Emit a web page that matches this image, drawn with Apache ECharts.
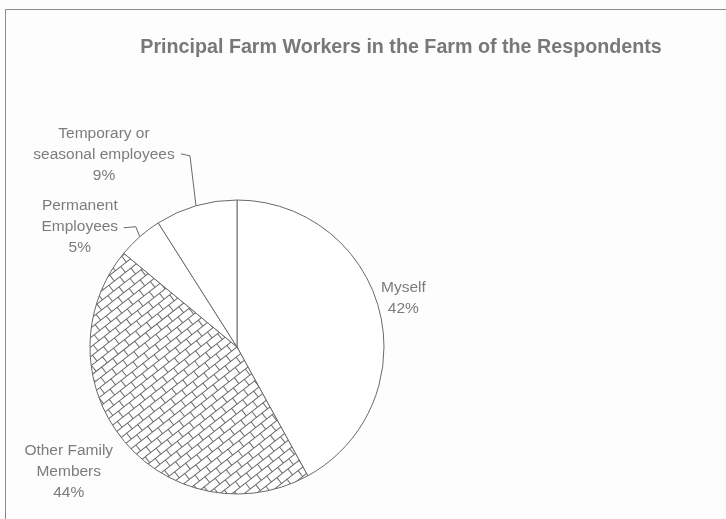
<!DOCTYPE html>
<html>
<head>
<meta charset="utf-8">
<script src="https://cdn.jsdelivr.net/npm/echarts@6/dist/echarts.min.js"></script>
<style>
  html, body { margin: 0; padding: 0; background: #fdfdfd; }
  #chart { width: 726px; height: 519px; }
</style>
</head>
<body>
<div id="chart"></div>
<script>
const chart = echarts.init(document.getElementById('chart'));

const categories = ['Myself', 'Other Family\nMembers', 'Permanent\nEmployees', 'Temporary or\nseasonal employees'];
const shares = [42, 44, 5, 9];

// brick hatch for the "Other Family Members" slice
function brickPattern() {
  const c = document.createElement('canvas');
  c.width = 726;
  c.height = 519;
  const ctx = c.getContext('2d');
  ctx.fillStyle = '#ffffff';
  ctx.fillRect(0, 0, c.width, c.height);
  ctx.strokeStyle = '#6a6a6a';
  ctx.lineWidth = 1;
  ctx.translate(237, 347);
  ctx.rotate(-38 * Math.PI / 180);
  const bw = 14, bh = 7.5;
  ctx.beginPath();
  for (let r = -60; r <= 60; r++) {
    const y = r * bh;
    ctx.moveTo(-700, y);
    ctx.lineTo(700, y);
    const off = (r & 1) ? bw / 2 : 0;
    for (let x = -700 + off; x < 700; x += bw) {
      ctx.moveTo(x, y);
      ctx.lineTo(x, y + bh);
    }
  }
  ctx.stroke();
  return c;
}

// label offsets from the slice edge point (label centre, leader bend)
const labelOffsets = [
  { dx: 24, dy: -12 },
  { dx: -55, dy: 31 },
  { dx: -60, dy: -10, bend: [-4, -10], end: [-16, -9] },
  { dx: -92, dy: -51, bend: [-6, -50], end: [-15, -52] }
];

const seriesData = categories.map(function (name, i) {
  const item = { name: name, value: shares[i] };
  if (i === 1) {
    item.itemStyle = { color: { image: brickPattern(), repeat: 'no-repeat' } };
  }
  if (i < 2) {
    item.labelLine = { lineStyle: { opacity: 0 } };
  }
  return item;
});

const option = {
  backgroundColor: '#fdfdfd',
  animation: false,
  title: {
    text: 'Principal Farm Workers in the Farm of the Respondents',
    left: 396,
    textAlign: 'center',
    top: 33,
    textStyle: {
      fontFamily: 'Liberation Sans, Arial, sans-serif',
      fontSize: 19.7,
      fontWeight: 'bold',
      color: '#787878'
    }
  },
  graphic: [
    {
      type: 'rect',
      shape: { x: 5.5, y: 9.5, width: 730, height: 520 },
      style: { fill: null, stroke: '#8a8a8a', lineWidth: 1 },
      silent: true
    }
  ],
  series: [
    {
      type: 'pie',
      center: [237, 347],
      radius: 147,
      startAngle: 90,
      clockwise: true,
      data: seriesData,
      itemStyle: {
        color: '#ffffff',
        borderColor: '#6a6a6a',
        borderWidth: 1
      },
      label: {
        position: 'outside',
        formatter: '{b}\n{c}%',
        fontFamily: 'Liberation Sans, Arial, sans-serif',
        fontSize: 15.5,
        lineHeight: 21,
        color: '#7c7c7c',
        align: 'center'
      },
      labelLine: {
        show: true,
        length: 10,
        length2: 10,
        lineStyle: { color: '#6a6a6a', width: 1 }
      },
      labelLayout: function (params) {
        const o = labelOffsets[params.dataIndex];
        const p0 = params.labelLinePoints[0];
        const res = {
          x: p0[0] + o.dx,
          y: p0[1] + o.dy,
          align: 'center',
          verticalAlign: 'middle'
        };
        if (o.bend) {
          res.labelLinePoints = [
            p0,
            [p0[0] + o.bend[0], p0[1] + o.bend[1]],
            [p0[0] + o.end[0], p0[1] + o.end[1]]
          ];
        } else {
          res.labelLinePoints = [p0, p0, p0];
        }
        return res;
      },
      emphasis: { disabled: true }
    }
  ]
};

chart.setOption(option);
window.addEventListener('resize', function () { chart.resize(); });
</script>
</body>
</html>
